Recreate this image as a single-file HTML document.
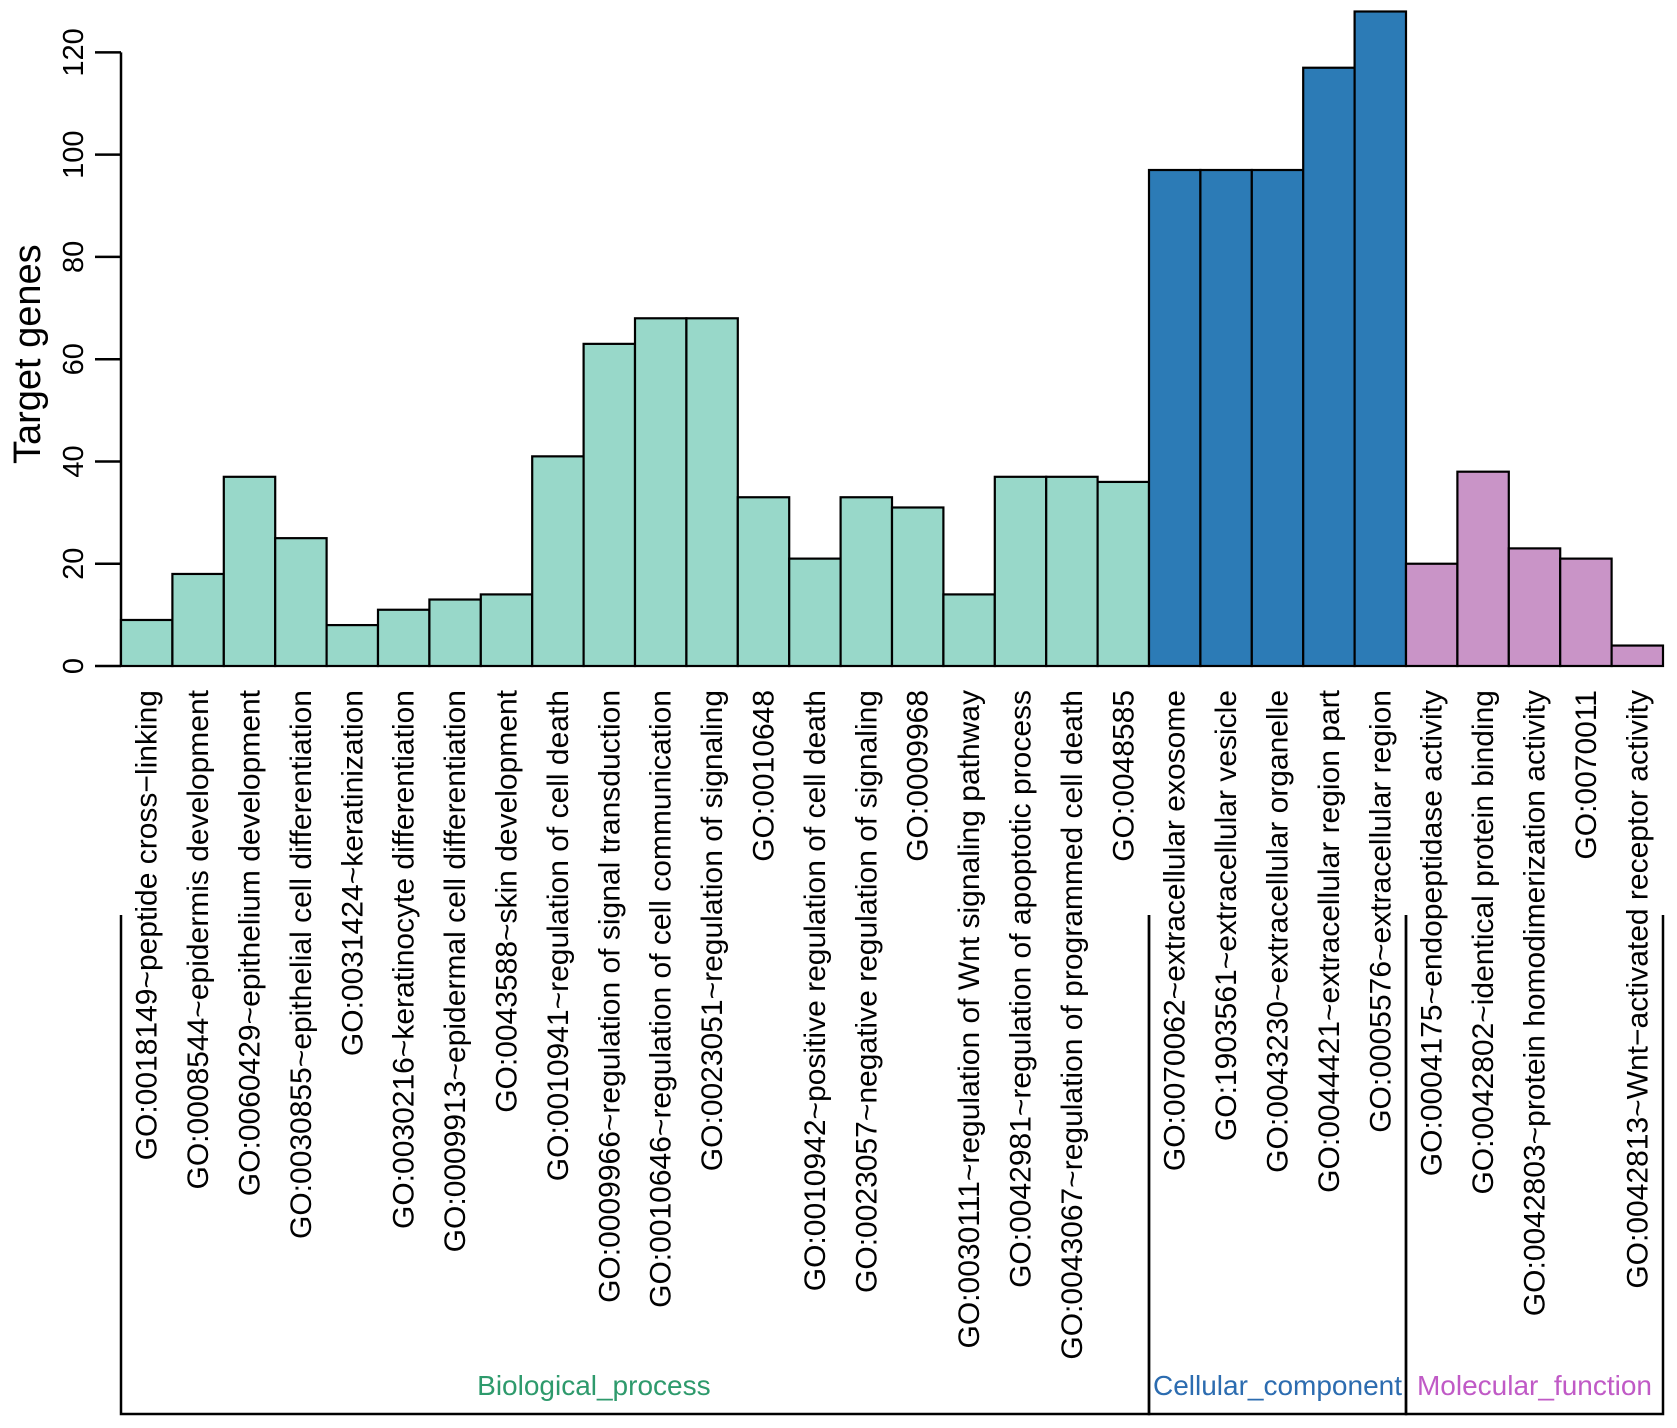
<!DOCTYPE html>
<html><head><meta charset="utf-8"><style>
html,body{margin:0;padding:0;background:#fff}
svg{display:block;font-family:"Liberation Sans",Arial,sans-serif}
</style></head><body>
<svg id="chart" width="1677" height="1428" viewBox="0 0 1677 1428" xmlns="http://www.w3.org/2000/svg"></svg>
<script>
const categories = ["GO:0018149~peptide cross\u2212linking","GO:0008544~epidermis development","GO:0060429~epithelium development","GO:0030855~epithelial cell differentiation","GO:0031424~keratinization","GO:0030216~keratinocyte differentiation","GO:0009913~epidermal cell differentiation","GO:0043588~skin development","GO:0010941~regulation of cell death","GO:0009966~regulation of signal transduction","GO:0010646~regulation of cell communication","GO:0023051~regulation of signaling","GO:0010648","GO:0010942~positive regulation of cell death","GO:0023057~negative regulation of signaling","GO:0009968","GO:0030111~regulation of Wnt signaling pathway","GO:0042981~regulation of apoptotic process","GO:0043067~regulation of programmed cell death","GO:0048585","GO:0070062~extracellular exosome","GO:1903561~extracellular vesicle","GO:0043230~extracellular organelle","GO:0044421~extracellular region part","GO:0005576~extracellular region","GO:0004175~endopeptidase activity","GO:0042802~identical protein binding","GO:0042803~protein homodimerization activity","GO:0070011","GO:0042813~Wnt\u2212activated receptor activity"];
const values = [9,18,37,25,8,11,13,14,41,63,68,68,33,21,33,31,14,37,37,36,97,97,97,117,128,20,38,23,21,4];
const groups = ["Biological_process","Biological_process","Biological_process","Biological_process","Biological_process","Biological_process","Biological_process","Biological_process","Biological_process","Biological_process","Biological_process","Biological_process","Biological_process","Biological_process","Biological_process","Biological_process","Biological_process","Biological_process","Biological_process","Biological_process","Cellular_component","Cellular_component","Cellular_component","Cellular_component","Cellular_component","Molecular_function","Molecular_function","Molecular_function","Molecular_function","Molecular_function"];
const groupNames = ["Biological_process","Cellular_component","Molecular_function"];
const yTicks = [0,20,40,60,80,100,120];

const fill = {Biological_process:"#98d8c9",Cellular_component:"#2c7bb6",Molecular_function:"#c994c7"};
const textCol = {Biological_process:"#2e9a6c",Cellular_component:"#2c6cb0",Molecular_function:"#c05ac6"};
const labelOffset = {Biological_process:-0.04,Cellular_component:0,Molecular_function:0};
const NS="http://www.w3.org/2000/svg";
const svg=document.getElementById('chart');
const X0=121,X1=1663,Y0=666,Ytop=52.4;
const bw=(X1-X0)/values.length;
const y=v=>Y0-(v/120)*(Y0-Ytop);
const x=i=>X0+i*bw;
function mk(t,a){const e=document.createElementNS(NS,t);for(const k in a)e.setAttribute(k,a[k]);svg.appendChild(e);return e;}

let ax=mk('line',{x1:X0,x2:X0,y1:y(0),y2:y(120),stroke:'#000','stroke-width':2.5});


yTicks.forEach(t=>{
  const l=mk('line',{x1:95,x2:X0,y1:y(t),y2:y(t),stroke:'#000','stroke-width':2.5});
  
  
  const tx=mk('text',{x:0,y:0,transform:`translate(83,${y(t)}) rotate(-90)`,'text-anchor':'middle','font-size':29});
  tx.textContent=t;
  
  
});
const yt=mk('text',{x:0,y:0,transform:`translate(40,${(y(0)+y(120))/2-5}) rotate(-90)`,'text-anchor':'middle','font-size':38});
yt.textContent='Target genes';



values.forEach((v,i)=>{
  const r=mk('rect',{x:x(i),y:y(v),width:bw,height:y(0)-y(v),fill:fill[groups[i]],stroke:'#000','stroke-width':2.2});
  
  
  const cx=x(i)+bw/2;
  const t=mk('text',{x:0,y:0,transform:`translate(${cx+10},690) rotate(-90)`,'text-anchor':'end','font-size':30});
  t.textContent=categories[i];
  
  
});
let bl=mk('line',{x1:X0,x2:X1,y1:y(0),y2:y(0),stroke:'#000','stroke-width':2});



const BY=1414;
groupNames.forEach(g=>{
  const idx=groups.map((gg,i)=>gg===g?i:-1).filter(i=>i>=0);
  const a=x(idx[0]),b=x(idx[idx.length-1]+1);
  const p=mk('path',{d:`M${a},915 V${BY} H${b} V915`,fill:'none',stroke:'#000','stroke-width':2.5});
  
  
  const t=mk('text',{x:(a+b)/2+labelOffset[g]*(b-a),y:1395,'text-anchor':'middle','font-size':28,fill:textCol[g]});
  t.textContent=g;
  
  
});
</script>
</body></html>
